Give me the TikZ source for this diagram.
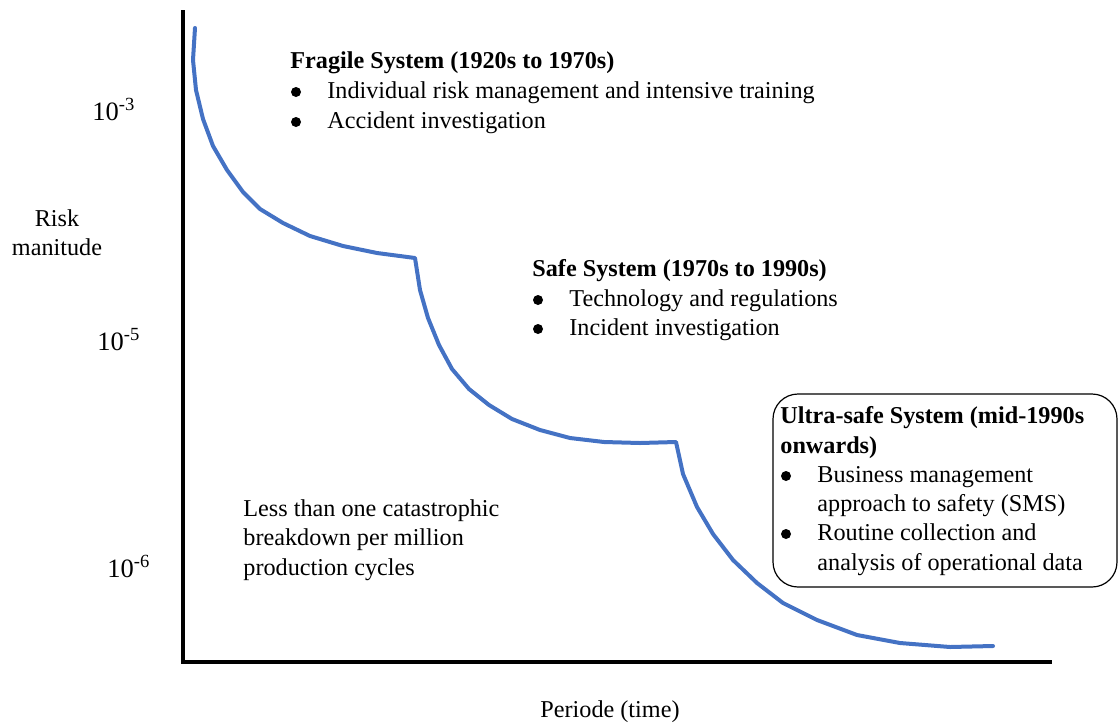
\documentclass[tikz,border=0pt]{standalone}
\usepackage{fontspec}
\setmainfont{Liberation Serif}
\definecolor{kurvenblau}{HTML}{4472C4}
\begin{document}
\begin{tikzpicture}[x=1pt,y=-1pt,thick,font=\fontsize{24.2}{30}\selectfont,
  txt/.style={anchor=base west,inner sep=0pt},
  skala/.style={anchor=base west,inner sep=0pt,font=\fontsize{26.5}{30}\selectfont},
  kurve/.style={kurvenblau,line width=4pt,line join=round,line cap=round}]
\useasboundingbox (0,0) rectangle (1118,726);
\def\punkt#1{
\fill (#1) ++(-31,-6) circle (5);
}
% Achsen
\coordinate (ursprung) at (183,662);
\coordinate (yende) at (183,10);
\coordinate (xende) at (1052,662);
\draw[line width=4pt] (yende) -- (ursprung) -- (xende);

% Kurve
\draw[kurve] (195,28) -- (193,60) -- (196,90) -- (203,119) -- (213,146)
 -- (227,170) -- (243,192) -- (260,209) -- (283,223) -- (310,236)
 -- (343,246) -- (377,253) -- (415,258)
 -- (420,290) -- (428,318) -- (439,345) -- (452,369) -- (469,389)
 -- (489,405) -- (512,419) -- (540,430) -- (570,438) -- (604,442)
 -- (640,443) -- (676,442)
 -- (683,474) -- (697,507) -- (713,534) -- (733,560) -- (757,583)
 -- (783,603) -- (817,620) -- (857,635) -- (900,643) -- (950,647)
 -- (993,646);

% Achsenbeschriftung
\node[skala] (e3) at (92,120) {10\textsuperscript{-3}};
\node[skala] (e5) at (97,350) {10\textsuperscript{-5}};
\node[skala] (e6) at (107,577) {10\textsuperscript{-6}};
\node[anchor=base,inner sep=0pt] (risk1) at (57,226) {Risk};
\node[anchor=base,inner sep=0pt] (risk2) at (57,255) {manitude};
\node[anchor=base,inner sep=0pt] (zeit) at (610,717) {Periode (time)};

% Fragile
\node[txt] (frag) at (290,68) {\textbf{Fragile System (1920s to 1970s)}};
\node[txt] (frag1) at (327,98) {Individual risk management and intensive training};
\node[txt] (frag2) at (327,128) {Accident investigation};
\punkt{frag1.base west}
\punkt{frag2.base west}

% Safe
\node[txt] (safe) at (532,276) {\textbf{Safe System (1970s to 1990s)}};
\node[txt] (safe1) at (569,306) {Technology and regulations};
\node[txt] (safe2) at (569,335) {Incident investigation};
\punkt{safe1.base west}
\punkt{safe2.base west}

% Ultra-safe
\draw[line width=1.2pt,rounded corners=25] (773,394) rectangle (1117,587);
\node[txt] (ultra) at (780,423) {\textbf{Ultra-safe System (mid-1990s}};
\node[txt] (ultrab) at (780,453) {\textbf{onwards)}};
\node[txt] (ultra1) at (817,482) {Business management};
\node[txt] (ultra1b) at (817,511) {approach to safety (SMS)};
\node[txt] (ultra2) at (817,540) {Routine collection and};
\node[txt] (ultra2b) at (817,570) {analysis of operational data};
\punkt{ultra1.base west}
\punkt{ultra2.base west}

% weniger als
\node[txt] (wen1) at (243,516) {Less than one catastrophic};
\node[txt] (wen2) at (243,545) {breakdown per million};
\node[txt] (wen3) at (243,575) {production cycles};
\end{tikzpicture}
\end{document}
